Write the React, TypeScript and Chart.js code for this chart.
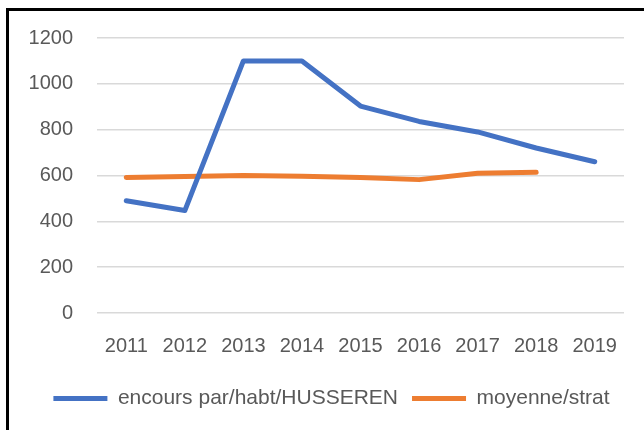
import { useEffect, useRef } from "react";
import { Chart, registerables } from "chart.js";

Chart.register(...registerables);

const years = ["2011", "2012", "2013", "2014", "2015", "2016", "2017", "2018", "2019"];
const encours = [490, 447, 1100, 1100, 903, 836, 790, 720, 660];
const moyenne: (number | null)[] = [591, 596, 600, 597, 591, 582, 610, 614, null];
const yMin = 0;
const yMax = 1200;
const yStep = 200;

const BLUE = "#4472C4";
const ORANGE = "#ED7D31";
const TEXT = "#595959";
const FONT = "'Liberation Sans', Arial, sans-serif";

const legendShift = {
  id: "legendShift",
  afterLayout(chart: any) {
    const lg = chart.legend;
    if (lg) {
      lg.left += 6;
      lg.right += 6;
    }
  },
};

export default function App() {
  const ref = useRef<HTMLCanvasElement | null>(null);

  useEffect(() => {
    document.body.style.margin = "0";
    document.body.style.overflow = "hidden";
    const canvas = ref.current;
    if (!canvas) return;
    const chart = new Chart(canvas, {
      type: "line",
      data: {
        labels: years,
        datasets: [
          {
            label: "encours par/habt/HUSSEREN",
            data: encours,
            borderColor: BLUE,
            backgroundColor: BLUE,
            borderWidth: 5,
            borderCapStyle: "round",
            borderJoinStyle: "round",
            pointRadius: 0,
            tension: 0,
          },
          {
            label: "moyenne/strat",
            data: moyenne,
            borderColor: ORANGE,
            backgroundColor: ORANGE,
            borderWidth: 5,
            borderCapStyle: "round",
            borderJoinStyle: "round",
            pointRadius: 0,
            tension: 0,
          },
        ],
      },
      options: {
        animation: false,
        responsive: false,
        maintainAspectRatio: false,
        layout: { padding: { left: 27, right: 20, top: 38, bottom: 11 } },
        plugins: {
          tooltip: { enabled: false },
          legend: {
            position: "bottom",
            labels: {
              usePointStyle: true,
              pointStyle: "line",
              pointStyleWidth: 54,
              boxHeight: 5,
              padding: 14,
              color: TEXT,
              font: { family: FONT, size: 21 },
            },
          },
        },
        scales: {
          x: {
            offset: true,
            grid: { display: false, drawTicks: false, offset: true },
            border: { display: false },
            ticks: { color: TEXT, font: { family: FONT, size: 20 }, padding: 21, maxRotation: 0 },
            afterFit: (s: any) => {
              s.height -= 5;
            },
          },
          y: {
            min: yMin,
            max: yMax,
            grid: { color: "#d9d9d9", lineWidth: 1.5, drawTicks: false },
            border: { display: false },
            ticks: {
              stepSize: yStep,
              color: TEXT,
              font: { family: FONT, size: 20 },
              padding: 24,
              callback: (v: any) => String(v),
            },
            afterFit: (s: any) => {
              s.width = 70;
            },
          },
        },
      },
      plugins: [legendShift],
    });
    return () => chart.destroy();
  }, []);

  return (
    <div style={{ position: "fixed", left: 0, top: 0, width: 644, height: 430, overflow: "hidden", background: "#fff" }}>
      <div
        style={{
          position: "absolute",
          left: 6,
          top: 8,
          width: 1000,
          height: 1000,
          border: "3px solid #000",
          boxSizing: "border-box",
        }}
      />
      <canvas ref={ref} width={644} height={430} style={{ position: "absolute", left: 0, top: 0, width: 644, height: 430 }} />
    </div>
  );
}
